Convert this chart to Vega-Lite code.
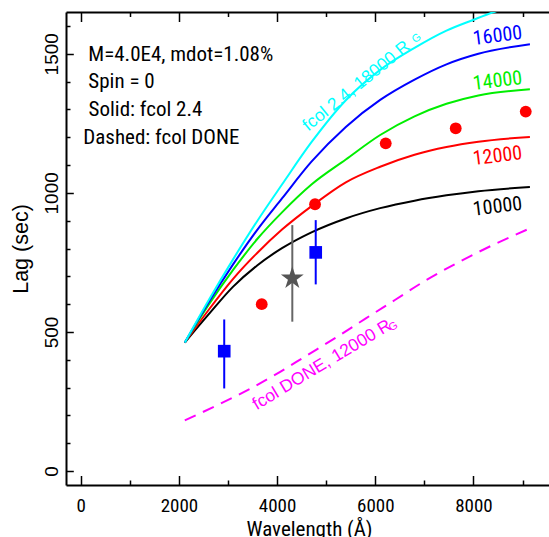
{
  "$schema": "https://vega.github.io/schema/vega-lite/v6.json",
  "width": 486,
  "height": 473,
  "autosize": {"type": "none"},
  "padding": {"left": 66, "top": 12, "right": 0, "bottom": 52},
  "config": {
    "view": {"stroke": null},
    "axis": {"domainColor": "black", "domainWidth": 2, "tickColor": "black", "tickWidth": 1.5, "grid": false, "labelColor": "black", "titleColor": "black", "titleFontWeight": "normal"}
  },
  "datasets": {
    "curves": [
      {"wl": 2120, "lag": 462, "model": "10000"}, {"wl": 2600, "lag": 562, "model": "10000"}, {"wl": 3100, "lag": 662, "model": "10000"}, {"wl": 3600, "lag": 740, "model": "10000"}, {"wl": 4100, "lag": 801, "model": "10000"}, {"wl": 4700, "lag": 858, "model": "10000"}, {"wl": 5400, "lag": 908, "model": "10000"}, {"wl": 6100, "lag": 945, "model": "10000"}, {"wl": 6800, "lag": 972, "model": "10000"}, {"wl": 7450, "lag": 991, "model": "10000"}, {"wl": 8100, "lag": 1006, "model": "10000"}, {"wl": 9150, "lag": 1021, "model": "10000"},
      {"wl": 2120, "lag": 462, "model": "12000"}, {"wl": 2600, "lag": 578, "model": "12000"}, {"wl": 3100, "lag": 690, "model": "12000"}, {"wl": 3600, "lag": 785, "model": "12000"}, {"wl": 4100, "lag": 868, "model": "12000"}, {"wl": 4730, "lag": 956, "model": "12000"}, {"wl": 5400, "lag": 1038, "model": "12000"}, {"wl": 6100, "lag": 1094, "model": "12000"}, {"wl": 6800, "lag": 1137, "model": "12000"}, {"wl": 7450, "lag": 1165, "model": "12000"}, {"wl": 8100, "lag": 1184, "model": "12000"}, {"wl": 9150, "lag": 1201, "model": "12000"},
      {"wl": 2120, "lag": 462, "model": "14000"}, {"wl": 2600, "lag": 596, "model": "14000"}, {"wl": 3100, "lag": 722, "model": "14000"}, {"wl": 3600, "lag": 835, "model": "14000"}, {"wl": 4100, "lag": 930, "model": "14000"}, {"wl": 4700, "lag": 1030, "model": "14000"}, {"wl": 5400, "lag": 1120, "model": "14000"}, {"wl": 6100, "lag": 1208, "model": "14000"}, {"wl": 6800, "lag": 1275, "model": "14000"}, {"wl": 7450, "lag": 1320, "model": "14000"}, {"wl": 8100, "lag": 1350, "model": "14000"}, {"wl": 9150, "lag": 1372, "model": "14000"},
      {"wl": 2120, "lag": 462, "model": "16000"}, {"wl": 2600, "lag": 605, "model": "16000"}, {"wl": 3100, "lag": 742, "model": "16000"}, {"wl": 3600, "lag": 868, "model": "16000"}, {"wl": 4100, "lag": 980, "model": "16000"}, {"wl": 4700, "lag": 1112, "model": "16000"}, {"wl": 5400, "lag": 1237, "model": "16000"}, {"wl": 6100, "lag": 1334, "model": "16000"}, {"wl": 6800, "lag": 1407, "model": "16000"}, {"wl": 7450, "lag": 1462, "model": "16000"}, {"wl": 8100, "lag": 1500, "model": "16000"}, {"wl": 9150, "lag": 1534, "model": "16000"},
      {"wl": 2120, "lag": 462, "model": "18000"}, {"wl": 2600, "lag": 612, "model": "18000"}, {"wl": 3100, "lag": 760, "model": "18000"}, {"wl": 3600, "lag": 900, "model": "18000"}, {"wl": 4100, "lag": 1030, "model": "18000"}, {"wl": 4700, "lag": 1182, "model": "18000"}, {"wl": 5400, "lag": 1333, "model": "18000"}, {"wl": 6100, "lag": 1442, "model": "18000"}, {"wl": 6800, "lag": 1521, "model": "18000"}, {"wl": 7450, "lag": 1583, "model": "18000"}, {"wl": 8000, "lag": 1622, "model": "18000"}, {"wl": 8400, "lag": 1649, "model": "18000"}, {"wl": 8800, "lag": 1672, "model": "18000"}
    ],
    "done": [
      {"wl": 2120, "lag": 182}, {"wl": 2700, "lag": 230}, {"wl": 3300, "lag": 282}, {"wl": 4000, "lag": 350}, {"wl": 4600, "lag": 415}, {"wl": 5200, "lag": 480}, {"wl": 5800, "lag": 548}, {"wl": 6400, "lag": 615}, {"wl": 7034, "lag": 686}, {"wl": 7711, "lag": 752}, {"wl": 8389, "lag": 812}, {"wl": 9120, "lag": 870}
    ],
    "errs": [
      {"wl": 2923, "lo": 297, "hi": 545, "kind": "blue"},
      {"wl": 4787, "lo": 671, "hi": 902, "kind": "blue"},
      {"wl": 4310, "lo": 537, "hi": 884, "kind": "gray"}
    ],
    "red": [
      {"wl": 3687, "lag": 600}, {"wl": 4773, "lag": 959}, {"wl": 6213, "lag": 1178}, {"wl": 7639, "lag": 1232}, {"wl": 9065, "lag": 1292}
    ],
    "blue": [
      {"wl": 2923, "lag": 431}, {"wl": 4787, "lag": 786}
    ],
    "star": [
      {"wl": 4310, "lag": 693}
    ],
    "notes": [
      {"wl": 155, "lag": 1475, "text": "M=4.0E4, mdot=1.08%"},
      {"wl": 155, "lag": 1376, "text": "Spin = 0"},
      {"wl": 160, "lag": 1277, "text": "Solid: fcol 2.4"},
      {"wl": 53, "lag": 1175, "text": "Dashed: fcol DONE"}
    ],
    "clabels": [
      {"wl": 8491, "lag": 1564, "text": "16000", "model": "16000"},
      {"wl": 8491, "lag": 1402, "text": "14000", "model": "14000"},
      {"wl": 8491, "lag": 1132, "text": "12000", "model": "12000"},
      {"wl": 8491, "lag": 950, "text": "10000", "model": "10000"}
    ],
    "cyanlab": [{"wl": 4636, "lag": 1220, "text": "fcol 2.4, 18000 R"}],
    "cyansub": [{"wl": 6845, "lag": 1555, "text": "G"}],
    "maglab": [{"wl": 3585, "lag": 219, "text": "fcol DONE, 12000 R"}],
    "magsub": [{"wl": 6368, "lag": 519, "text": "G"}]
  },
  "layer": [
    {
      "data": {"name": "curves"},
      "mark": {"type": "line", "strokeWidth": 2, "interpolate": "monotone", "clip": true},
      "encoding": {
        "x": {"field": "wl", "type": "quantitative", "scale": {"domain": [-300, 9600], "nice": false, "zero": false},
          "axis": {"orient": "bottom", "values": [0, 1000, 2000, 3000, 4000, 5000, 6000, 7000, 8000, 9000],
            "tickSize": {"condition": {"test": "datum.value % 2000 === 0", "value": -9.5}, "value": -5},
            "labelExpr": "datum.value % 2000 === 0 ? datum.label : ''", "format": "d", "labelOverlap": false,
            "labelFont": "Roboto Condensed, Liberation Sans Narrow, DejaVu Sans Condensed, Liberation Sans, sans-serif", "labelFontSize": 19, "labelPadding": 21, "labelFlush": false,
            "title": "Wavelength (Å)", "titleFont": "Roboto Condensed, Liberation Sans Narrow, DejaVu Sans Condensed, Liberation Sans, sans-serif", "titleFontSize": 21, "titlePadding": -2}},
        "y": {"field": "lag", "type": "quantitative", "scale": {"domain": [-50, 1650], "nice": false, "zero": false},
          "axis": {"orient": "left", "values": [0, 100, 200, 300, 400, 500, 600, 700, 800, 900, 1000, 1100, 1200, 1300, 1400, 1500, 1600],
            "tickSize": {"condition": {"test": "datum.value % 500 === 0", "value": -7.3}, "value": -4},
            "labelExpr": "datum.value % 500 === 0 ? datum.label : ''", "format": "d", "labelOverlap": false,
            "labelAngle": 270, "labelFont": "Liberation Sans", "labelFontSize": 19, "labelPadding": 12, "labelFlush": false,
            "title": "Lag (sec)", "titleFont": "Liberation Sans", "titleFontSize": 21.5, "titlePadding": 7}},
        "color": {"field": "model", "type": "nominal", "scale": {"domain": ["10000", "12000", "14000", "16000", "18000"], "range": ["#000000", "#ff0000", "#00ee00", "#0000ff", "#00ffff"]}, "legend": null}
      }
    },
    {
      "data": {"name": "done"},
      "mark": {"type": "line", "strokeWidth": 2, "color": "#ff00ff", "strokeDash": [12, 8], "interpolate": "monotone"},
      "encoding": {
        "x": {"field": "wl", "type": "quantitative",
          "axis": {"orient": "top", "values": [0, 1000, 2000, 3000, 4000, 5000, 6000, 7000, 8000, 9000],
            "tickSize": {"condition": {"test": "datum.value % 2000 === 0", "value": -9.5}, "value": -4.5},
            "labels": false, "title": null}},
        "y": {"field": "lag", "type": "quantitative", "axis": null}
      }
    },
    {
      "data": {"name": "errs"},
      "mark": {"type": "rule", "strokeWidth": 2},
      "encoding": {
        "x": {"field": "wl", "type": "quantitative", "axis": null},
        "y": {"field": "lo", "type": "quantitative", "axis": null},
        "y2": {"field": "hi"},
        "stroke": {"field": "kind", "type": "nominal", "scale": {"domain": ["blue", "gray"], "range": ["#0000ff", "#666666"]}, "legend": null}
      }
    },
    {
      "data": {"name": "red"},
      "mark": {"type": "point", "shape": "circle", "filled": true, "size": 140, "color": "#ff0000", "opacity": 1},
      "encoding": {
        "x": {"field": "wl", "type": "quantitative", "axis": null},
        "y": {"field": "lag", "type": "quantitative", "axis": null}
      }
    },
    {
      "data": {"name": "blue"},
      "mark": {"type": "point", "shape": "square", "filled": true, "size": 160, "color": "#0000ff", "opacity": 1},
      "encoding": {
        "x": {"field": "wl", "type": "quantitative", "axis": null},
        "y": {"field": "lag", "type": "quantitative", "axis": null}
      }
    },
    {
      "data": {"name": "star"},
      "mark": {"type": "point", "shape": "M0,-1L0.2245,-0.309L0.9511,-0.309L0.3633,0.118L0.5878,0.809L0,0.382L-0.5878,0.809L-0.3633,0.118L-0.9511,-0.309L-0.2245,-0.309Z", "filled": true, "size": 576, "color": "#555555", "opacity": 1},
      "encoding": {
        "x": {"field": "wl", "type": "quantitative", "axis": null},
        "y": {"field": "lag", "type": "quantitative", "axis": null}
      }
    },
    {
      "data": {"name": "notes"},
      "mark": {"type": "text", "align": "left", "baseline": "alphabetic", "font": "Roboto Condensed, Liberation Sans Narrow, DejaVu Sans Condensed, Liberation Sans, sans-serif", "fontSize": 21, "color": "black"},
      "encoding": {
        "x": {"field": "wl", "type": "quantitative", "axis": null},
        "y": {"field": "lag", "type": "quantitative", "axis": null},
        "text": {"field": "text"}
      }
    },
    {
      "data": {"name": "clabels"},
      "mark": {"type": "text", "align": "center", "baseline": "middle", "font": "Roboto Condensed, Liberation Sans Narrow, DejaVu Sans Condensed, Liberation Sans, sans-serif", "fontSize": 20, "angle": 353},
      "encoding": {
        "x": {"field": "wl", "type": "quantitative", "axis": null},
        "y": {"field": "lag", "type": "quantitative", "axis": null},
        "text": {"field": "text"},
        "color": {"field": "model", "type": "nominal", "legend": null}
      }
    },
    {
      "data": {"name": "cyanlab"},
      "mark": {"type": "text", "align": "left", "baseline": "alphabetic", "font": "Liberation Sans", "fontSize": 17.5, "angle": 321, "color": "#00ffff"},
      "encoding": {
        "x": {"field": "wl", "type": "quantitative", "axis": null},
        "y": {"field": "lag", "type": "quantitative", "axis": null},
        "text": {"field": "text"}
      }
    },
    {
      "data": {"name": "cyansub"},
      "mark": {"type": "text", "align": "center", "baseline": "middle", "font": "Liberation Sans", "fontSize": 11, "angle": 321, "color": "#00ffff"},
      "encoding": {
        "x": {"field": "wl", "type": "quantitative", "axis": null},
        "y": {"field": "lag", "type": "quantitative", "axis": null},
        "text": {"field": "text"}
      }
    },
    {
      "data": {"name": "maglab"},
      "mark": {"type": "text", "align": "left", "baseline": "alphabetic", "font": "Liberation Sans", "fontSize": 17.5, "angle": 329, "color": "#ff00ff"},
      "encoding": {
        "x": {"field": "wl", "type": "quantitative", "axis": null},
        "y": {"field": "lag", "type": "quantitative", "axis": null},
        "text": {"field": "text"}
      }
    },
    {
      "data": {"name": "magsub"},
      "mark": {"type": "text", "align": "center", "baseline": "middle", "font": "Liberation Sans", "fontSize": 11, "angle": 329, "color": "#ff00ff"},
      "encoding": {
        "x": {"field": "wl", "type": "quantitative", "axis": null},
        "y": {"field": "lag", "type": "quantitative", "axis": null},
        "text": {"field": "text"}
      }
    }
  ],
  "resolve": {"axis": {"x": "independent", "y": "independent"}}
}
